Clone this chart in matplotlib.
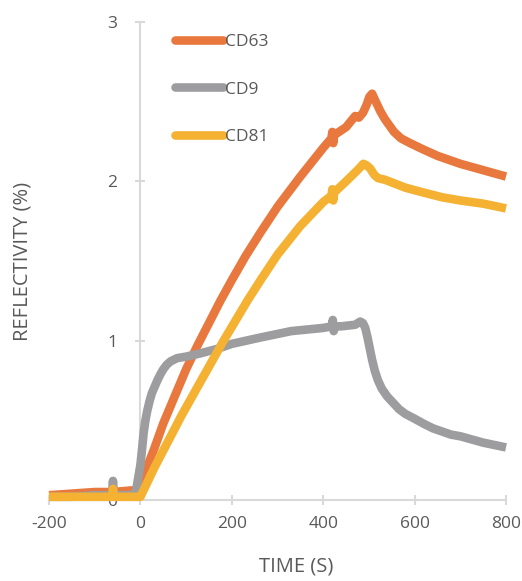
import matplotlib
matplotlib.use('Agg')
import matplotlib.pyplot as plt

# time (s) and reflectivity (%)
cd63_t = [-200, -150, -100, -60, -20, -12, 0, 15, 30, 50, 72, 100, 125, 150, 175, 200, 230, 263, 300, 350, 400,
          418, 420, 422, 424, 450, 470, 478, 487, 495, 501, 507, 515, 525, 535, 545, 555, 570, 590, 619,
          650, 680, 700, 750, 800]
cd63_r = [0.03, 0.04, 0.05, 0.05, 0.06, 0.05, 0.09, 0.21, 0.32, 0.48, 0.63, 0.82, 0.97, 1.11, 1.25, 1.38, 1.53,
          1.68, 1.84, 2.03, 2.21, 2.27, 2.31, 2.24, 2.29, 2.34, 2.41, 2.40, 2.43, 2.48, 2.53, 2.55, 2.50,
          2.44, 2.39, 2.35, 2.31, 2.27, 2.24, 2.20, 2.16, 2.13, 2.11, 2.07, 2.03]

cd9_t = [-200, -150, -100, -62, -60, -58, -20, -10, 0, 4, 7, 11, 15, 20, 25, 31, 37, 44, 50, 58, 66, 80, 100,
         131, 170, 200, 263, 330, 400, 419, 421, 423, 425, 440, 470, 481, 487, 492, 497, 502, 507, 513, 520, 528,
         540, 553, 566, 580, 600, 619, 640, 660, 680, 700, 725, 750, 775, 800]
cd9_r = [0.02, 0.02, 0.03, 0.03, 0.12, 0.03, 0.03, 0.05, 0.22, 0.33, 0.42, 0.50, 0.56, 0.62, 0.67, 0.71, 0.75,
         0.79, 0.82, 0.85, 0.87, 0.89, 0.90, 0.92, 0.95, 0.98, 1.02, 1.06, 1.08, 1.09, 1.13, 1.06, 1.09, 1.09,
         1.10, 1.12, 1.11, 1.08, 1.02, 0.95, 0.88, 0.81, 0.75, 0.70, 0.65, 0.61, 0.57, 0.54, 0.51, 0.48, 0.45,
         0.43, 0.41, 0.40, 0.38, 0.36, 0.345, 0.33]

cd81_t = [-200, -150, -100, -62, -60, -58, -20, 0, 15, 30, 50, 90, 131, 180, 234, 263, 300, 350, 400, 418, 420,
          422, 424, 450, 475, 488, 495, 503, 512, 520, 535, 553, 580, 619, 660, 700, 750, 800]
cd81_r = [0.02, 0.02, 0.02, 0.02, 0.07, 0.02, 0.02, 0.02, 0.11, 0.20, 0.31, 0.53, 0.74, 0.99, 1.25, 1.38, 1.54,
          1.72, 1.87, 1.91, 1.95, 1.88, 1.93, 2.00, 2.07, 2.11, 2.10, 2.08, 2.04, 2.02, 2.01, 1.99, 1.96,
          1.93, 1.90, 1.88, 1.86, 1.83]

labels = ['CD63', 'CD9', 'CD81']
colors = ['#E8783E', '#9D9DA0', '#F4B132']
xticks = [-200, 0, 200, 400, 600, 800]
yticks = [0, 1, 2, 3]

txt = '#595959'
axis_col = '#D9D9D9'
plt.rcParams['font.family'] = ['Open Sans', 'DejaVu Sans']
plt.rcParams['axes.unicode_minus'] = False

fig = plt.figure(figsize=(5.22, 5.81), dpi=100)
ax = fig.add_axes([49 / 522, 81 / 581, 457 / 522, 478 / 581])

series = [(cd63_t, cd63_r), (cd9_t, cd9_r), (cd81_t, cd81_r)]
for (t, r), lab, c in zip(series, labels, colors):
    ax.plot(t, r, color=c, lw=6.2, label=lab, clip_on=False, zorder=3,
            solid_capstyle='butt', solid_joinstyle='round')

ax.set_xlim(-200, 800)
ax.set_ylim(0, 3)
ax.set_xticks(xticks)
ax.set_yticks(yticks)

for s in ['top', 'right']:
    ax.spines[s].set_visible(False)
ax.spines['left'].set_position(('data', 0))
for s in ['left', 'bottom']:
    ax.spines[s].set_color(axis_col)
    ax.spines[s].set_linewidth(1.5)
ax.tick_params(direction='inout', length=7, width=1.5, color=axis_col,
               labelcolor=txt, labelsize=12.5)
ax.tick_params(axis='x', pad=8)
ax.tick_params(axis='y', pad=13)

ax.set_xlabel('TIME (S)', color=txt, fontsize=14.5)
ax.xaxis.set_label_coords(0.54, -0.118)
ax.set_ylabel('REFLECTIVITY (%)', color=txt, fontsize=14.5)
ax.yaxis.set_label_coords(-0.037, 0.5)

leg = ax.legend(loc='upper left', bbox_to_anchor=(0.275, 0.975), frameon=False,
                fontsize=12.5, handlelength=2.8, handletextpad=0.1,
                labelspacing=1.8, borderpad=0, borderaxespad=0)
for h in leg.get_lines():
    h.set_solid_capstyle('round')
for t in leg.get_texts():
    t.set_color(txt)

fig.savefig('out.png', dpi=100)
